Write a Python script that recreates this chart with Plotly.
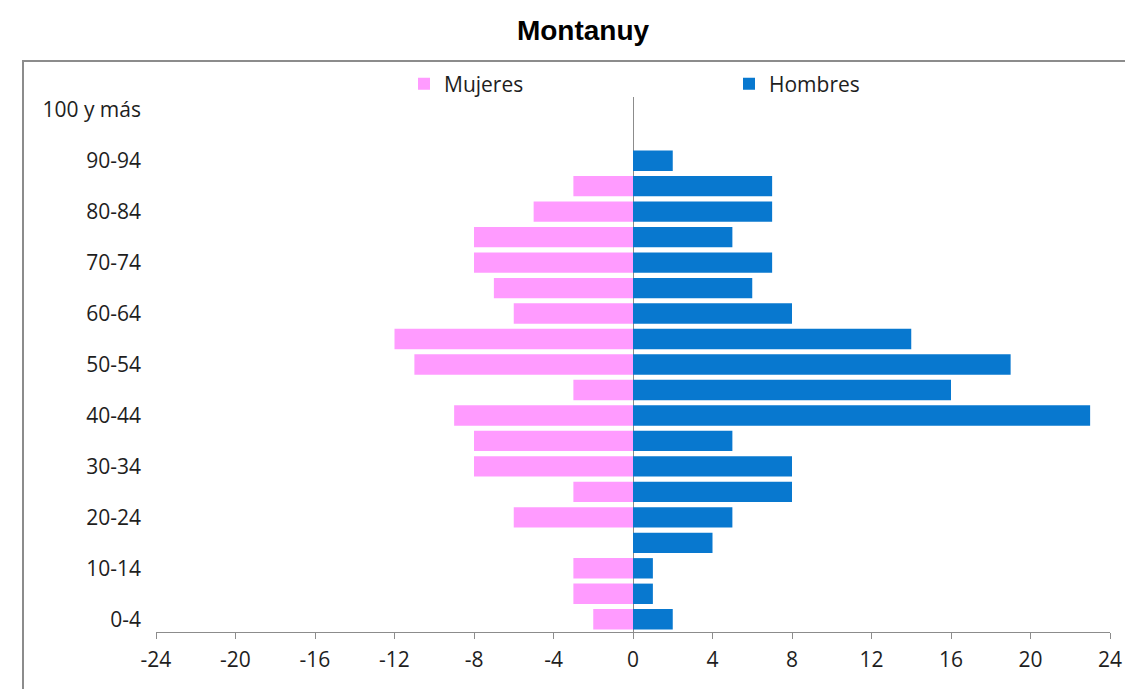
import plotly.graph_objects as go

age_groups = ["0-4", "5-9", "10-14", "15-19", "20-24", "25-29", "30-34", "35-39",
              "40-44", "45-49", "50-54", "55-59", "60-64", "65-69", "70-74",
              "75-79", "80-84", "85-89", "90-94", "95-99", "100 y más"]
hombres = [2, 1, 1, 4, 5, 8, 8, 5, 23, 16, 19, 14, 8, 6, 7, 5, 7, 7, 2, 0, 0]
mujeres = [-2, -3, -3, 0, -6, -3, -8, -8, -9, -3, -11, -12, -6, -7, -8, -8, -5, -3, 0, 0, 0]
x_ticks = [-24, -20, -16, -12, -8, -4, 0, 4, 8, 12, 16, 20, 24]
y_tick_labels = age_groups[::2]

FONT = "Open Sans, sans-serif"
FS = 21

fig = go.Figure()
fig.add_trace(go.Bar(
    y=list(range(len(age_groups))), x=mujeres, orientation="h", name="Mujeres",
    marker=dict(color="#FF9BFF", line=dict(width=0)), legend="legend", showlegend=True,
))
fig.add_trace(go.Bar(
    y=list(range(len(age_groups))), x=hombres, orientation="h", name="Hombres",
    marker=dict(color="#0878CF", line=dict(width=0)), legend="legend2", showlegend=True,
))

W, H = 1125, 689
L = 156
R = W - 1110
T = 97
B = H - 632
pw = W - L - R
ph = H - T - B

def px_x(p):
    return (p - L) / pw

def px_y(p):
    return (H - B - p) / ph

fig.update_layout(
    width=W, height=H,
    margin=dict(l=L, r=R, t=T, b=B, autoexpand=False),
    paper_bgcolor="white", plot_bgcolor="white",
    barmode="overlay", bargap=0.2,
    showlegend=True,
    font=dict(family=FONT, size=FS, color="#1e1e1e"),
    title=dict(text="<b>Montanuy</b>", x=583 / W, xanchor="center",
               y=1 - 30 / H, yanchor="middle",
               font=dict(family="Liberation Sans, Arial, sans-serif", size=28, color="black")),
    xaxis=dict(range=[-24, 24], tickvals=x_ticks, ticktext=[str(v) for v in x_ticks],
               showgrid=False, zeroline=True, zerolinecolor="#8c8c8c", zerolinewidth=1,
               showline=True, linecolor="#8c8c8c", linewidth=1,
               ticks="outside", ticklen=6, tickcolor="#8c8c8c", ticklabelstandoff=3,
               fixedrange=True, automargin=False),
    yaxis=dict(range=[-0.5, len(age_groups) - 0.5],
               tickvals=list(range(0, len(age_groups), 2)), ticktext=y_tick_labels,
               showgrid=False, zeroline=False, showline=False, ticks="",
               ticklabelstandoff=14, fixedrange=True, automargin=False),
    legend=dict(orientation="h", x=px_x(404), y=px_y(84), xanchor="left", yanchor="middle",
                font=dict(family=FONT, size=FS, color="#1e1e1e"), bgcolor="rgba(0,0,0,0)",
                itemwidth=30, visible=True),
    legend2=dict(orientation="h", x=px_x(729), y=px_y(84), xanchor="left", yanchor="middle",
                 font=dict(family=FONT, size=FS, color="#1e1e1e"), bgcolor="rgba(0,0,0,0)",
                 itemwidth=30, visible=True),
    shapes=[dict(type="rect", xref="paper", yref="paper",
                 x0=px_x(23), x1=px_x(1160), y0=px_y(720), y1=px_y(61),
                 line=dict(color="#8c8c8c", width=2), fillcolor="rgba(0,0,0,0)", layer="below")],
)

fig.write_html("out.html",
               config={"displayModeBar": False},
               post_script="document.body.style.margin='0';document.body.style.overflow='hidden';")
